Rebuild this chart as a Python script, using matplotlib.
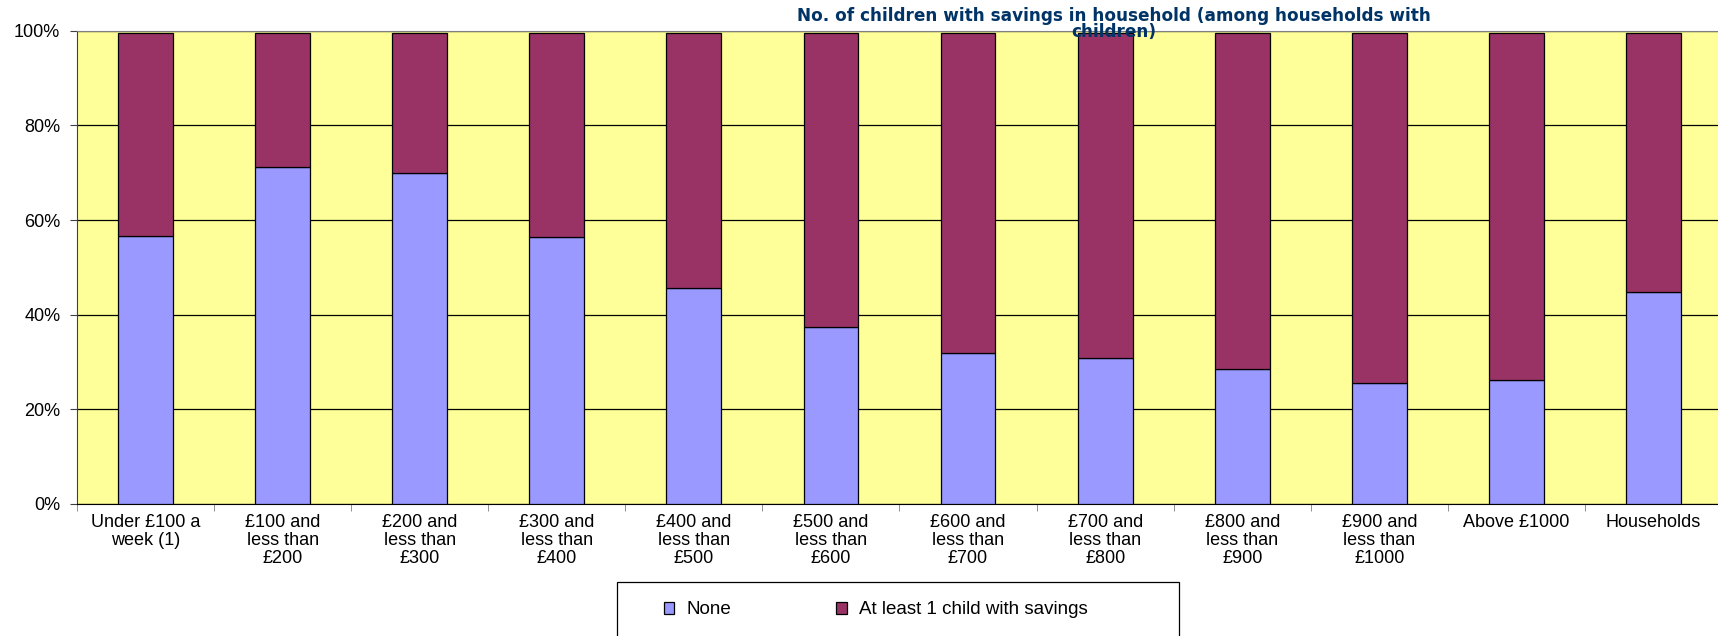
import matplotlib.pyplot as plt
import numpy as np
from matplotlib.patches import Rectangle
from matplotlib.ticker import FuncFormatter

# Income bands (weekly household income) and share of households by savings status
categories = ["Under £100 a\nweek (1)", "£100 and\nless than\n£200", "£200 and\nless than\n£300",
              "£300 and\nless than\n£400", "£400 and\nless than\n£500", "£500 and\nless than\n£600",
              "£600 and\nless than\n£700", "£700 and\nless than\n£800", "£800 and\nless than\n£900",
              "£900 and\nless than\n£1000", "Above £1000", "Households"]
none_pct = [56.7, 71.3, 69.9, 56.5, 45.6, 37.5, 31.9, 30.8, 28.5, 25.5, 26.2, 44.7]
atleast_pct = [42.9, 28.3, 29.7, 43.1, 54.0, 62.1, 67.7, 68.8, 71.1, 74.1, 73.4, 54.9]

plt.rcParams['font.family'] = ['Liberation Sans', 'DejaVu Sans']

W, H = 1718, 636
fig = plt.figure(figsize=(W / 100, H / 100), dpi=100)
ax = fig.add_axes([77 / W, (H - 504) / H, (1722 - 77) / W, (504 - 30.7) / H])

x = np.arange(len(categories))
ax.bar(x, none_pct, width=0.4, color='#9999FF', edgecolor='black', linewidth=0.9,
       label='None', zorder=3)
ax.bar(x, atleast_pct, width=0.4, bottom=none_pct, color='#993366', edgecolor='black',
       linewidth=0.9, label='At least 1 child with savings', zorder=3)

ax.set_facecolor('#FFFF99')
ax.set_xlim(-0.5, len(categories) - 0.5)
ax.set_ylim(0, 100)
ax.set_yticks([0, 20, 40, 60, 80, 100])
ax.yaxis.set_major_formatter(FuncFormatter(lambda v, p: f"{v:.0f}%"))
ax.grid(axis='y', color='black', linewidth=0.9, zorder=1)

# category labels sit between boundary ticks
ax.set_xticks(x)
ax.set_xticklabels(categories, fontsize=13, linespacing=1.1)
ax.tick_params(axis='x', length=0, pad=7)
ax.set_xticks(np.arange(len(categories) + 1) - 0.5, minor=True)
ax.tick_params(axis='x', which='minor', length=5, color='#808080')
ax.tick_params(axis='y', length=5, labelsize=13, pad=7, color='#404040')

ax.spines['top'].set_color('#808080')
ax.spines['left'].set_color('#404040')
ax.spines['bottom'].set_color('black')
ax.spines['right'].set_visible(False)

fig.text(1114 / W, 1 - 24 / H, "No. of children with savings in household (among households with\nchildren)",
         ha='center', va='center', fontsize=12.2, fontweight='bold', color='#003366',
         family='DejaVu Sans', linespacing=0.88)

# legend box, open at the bottom like the original
fig.patches.append(Rectangle((617 / W, -0.1), (1179 - 617) / W, (H - 582) / H + 0.1,
                             transform=fig.transFigure, facecolor='white',
                             edgecolor='black', linewidth=0.9))
fig.legend(loc='center left', bbox_to_anchor=(664 / W, 1 - 610 / H), ncol=2, frameon=False,
           fontsize=13.5, handlelength=0.55, handleheight=0.55, columnspacing=5.6,
           handletextpad=0.65, borderpad=0, borderaxespad=0)

fig.savefig('out.png', dpi=100)
